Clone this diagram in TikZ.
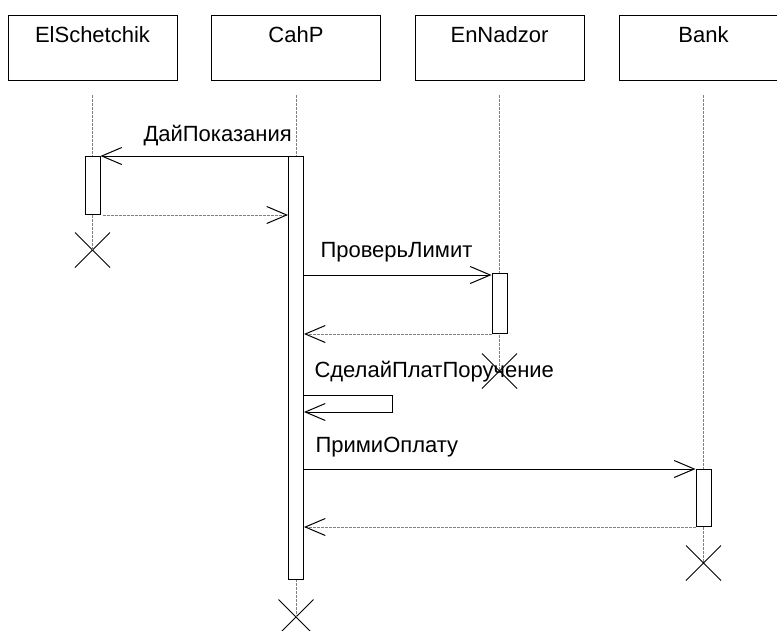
\documentclass[tikz,border=0pt]{standalone}
\usepackage{fontspec}
\setmainfont{Liberation Sans}
\usetikzlibrary{arrows.meta,shapes.misc}

\begin{document}
\begin{tikzpicture}[
            x=1pt, y=-1pt,
            line width=1pt,
            txt/.style={font=\fontsize{22}{27}\selectfont, inner sep=0pt},
            obj/.style={draw, txt, minimum width=169pt, minimum height=65pt, text height=27pt, text depth=38pt, anchor=north},
            act/.style={draw, fill=white, minimum width=15pt, inner sep=0pt, anchor=north},
            kill/.style={draw, cross out, minimum size=34pt, inner sep=0pt},
            life/.style={draw=gray, line width=0.8pt, dash pattern=on 3pt off 1pt},
            call/.style={-{Straight Barb[length=20pt,width=17pt,color=black]}},
            ret/.style={draw=gray, dash pattern=on 3pt off 1pt, -{Straight Barb[length=20pt,width=17pt,color=black]}}
        ]
            \useasboundingbox (0,0) rectangle (777,630);
            \clip (0,0) rectangle (777,630);

            % objects
            \node[obj] (els)  at (92.5,15)  {ElSchetchik};
            \node[obj] (cahp) at (296,15)   {CahP};
            \node[obj] (enn)  at (499.5,15) {EnNadzor};
            \node[obj] (bank) at (703.5,15) {Bank};

            % ends of life
            \node[kill] (elsEnd)  at (92.5,250)  {};
            \node[kill] (cahpEnd) at (296,617)   {};
            \node[kill] (ennEnd)  at (499.5,371) {};
            \node[kill] (bankEnd) at (703.5,563) {};

            % lifelines
            \draw[life] ([yshift=-14pt]els.south)  -- (elsEnd.center);
            \draw[life] ([yshift=-14pt]cahp.south) -- (cahpEnd.center);
            \draw[life] ([yshift=-14pt]enn.south)  -- (ennEnd.center);
            \draw[life] ([yshift=-14pt]bank.south) -- (bankEnd.center);

            % activations
            \node[act, minimum height=58pt]  (elsAct)  at (92.5,156)  {};
            \node[act, minimum height=423pt] (cahpAct) at (296,156)   {};
            \node[act, minimum height=60pt]  (ennAct)  at (499.5,273) {};
            \node[act, minimum height=57pt]  (bankAct) at (703.5,469) {};

            % messages
            \draw[call] (cahpAct.north west) -- (elsAct.north east);
            \node[txt, anchor=base west] (m1) at (143,141) {ДайПоказания};
            \draw[ret] ([xshift=2pt]elsAct.south east) -- (elsAct.south east -| cahpAct.west);

            \draw[call] ([yshift=-2pt]ennAct.north west -| cahpAct.east) -- ([yshift=-2pt]ennAct.north west);
            \node[txt, anchor=base west] (m2) at (320,257) {ПроверьЛимит};
            \draw[ret] (ennAct.south west) -- (ennAct.south west -| cahpAct.east);

            \coordinate (loopTop) at (392,395);
            \coordinate (loopBot) at (392,412);
            \node[txt, anchor=base west] (m3) at (314,377) {СделайПлатПоручение};
            \draw[call] (loopTop -| cahpAct.east) -- (loopTop) -- (loopBot) -- (loopBot -| cahpAct.east);

            \draw[call] (bankAct.north west -| cahpAct.east) -- (bankAct.north west);
            \node[txt, anchor=base west] (m4) at (315,452) {ПримиОплату};
            \draw[ret] (bankAct.south west) -- (bankAct.south west -| cahpAct.east);
        \end{tikzpicture}
\end{document}
